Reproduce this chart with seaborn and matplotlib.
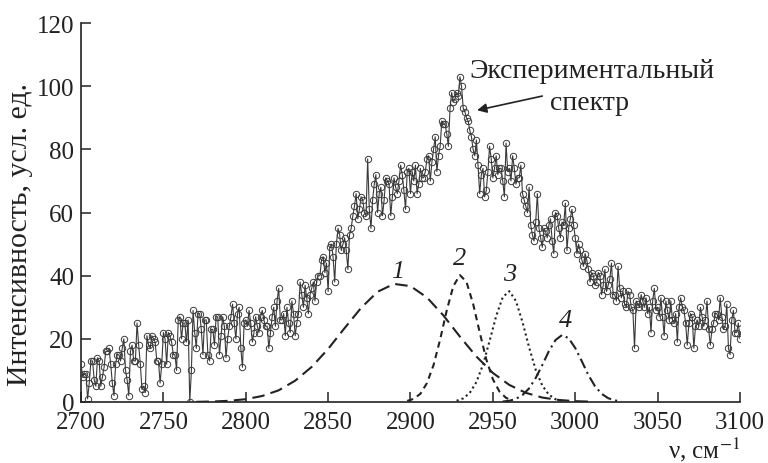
import numpy as np
import pandas as pd
import matplotlib
matplotlib.use("Agg")
import matplotlib.pyplot as plt
import seaborn as sns

# ---------------- data ----------------
# intensities at even wavenumbers 2700, 2702, ..., 3100
spectrum_even = [
    # 2700 - 2766
    12, 9, 1, 13, 7, 14, 5, 11, 16, 12, 2, 15, 13, 20, 7, 16, 13, 25, 12, 5,
    21, 17, 20, 13, 6, 22, 12, 21, 15, 10, 27, 25, 19, 0,
    # 2768 - 2832
    29, 17, 28, 15, 26, 13, 23, 27, 15, 27, 14, 24, 31, 20, 30, 11, 26, 29, 19, 27,
    22, 29, 24, 17, 27, 24, 36, 26, 21, 25, 32, 21, 28,
    # 2834 - 2900
    34, 37, 28, 36, 32, 40, 45, 41, 35, 50, 38, 55, 48, 52, 42, 55, 62, 58, 65, 60,
    77, 55, 69, 60, 68, 64, 70, 59, 71, 66, 75, 67, 73, 66,
    # 2902 - 2964
    70, 66, 74, 71, 77, 70, 80, 73, 81, 88, 85, 93, 95, 98, 103, 93, 90, 86, 80, 83,
    66, 74, 67, 81, 71, 78, 74, 70, 82, 74, 78, 69,
    # 2966 - 3032
    71, 66, 62, 68, 53, 57, 55, 49, 54, 56, 51, 60, 55, 57, 63, 55, 61, 52, 50, 45,
    47, 42, 41, 37, 41, 34, 42, 37, 44, 34, 43, 33, 31, 35,
    # 3034 - 3100
    30, 17, 31, 34, 30, 28, 22, 36, 30, 33, 21, 29, 32, 25, 19, 33, 29, 18, 28, 17,
    26, 30, 24, 32, 18, 25, 28, 33, 23, 31, 15, 29, 22, 20,
]
# intensities at odd wavenumbers 2701, 2703, ..., 3099
spectrum_odd = [
    # 2701 - 2767
    8, 9, 6, 13, 5, 13, 8, 16, 17, 6, 12, 15, 17, 10, 2, 18, 13, 18, 4, 3,
    18, 21, 19, 13, 12, 20, 22, 19, 15, 26, 20, 25, 26, 10,
    # 2769 - 2833
    22, 28, 23, 26, 15, 23, 18, 27, 21, 24, 20, 27, 25, 28, 17, 25, 24, 25, 22, 24,
    27, 26, 24, 22, 30, 32, 26, 28, 30, 22, 28, 25, 38,
    # 2835 - 2901
    30, 33, 34, 38, 38, 40, 46, 44, 49, 46, 50, 53, 50, 48, 53, 59, 66, 61, 64, 59,
    61, 64, 72, 66, 59, 71, 69, 65, 68, 70, 72, 61, 74, 73,
    # 2903 - 2965
    75, 69, 71, 73, 78, 76, 84, 78, 89, 88, 81, 98, 96, 97, 100, 92, 89, 84, 78, 75,
    72, 65, 73, 77, 74, 72, 74, 65, 73, 70, 74, 71,
    # 2967 - 3033
    75, 64, 60, 56, 51, 66, 52, 55, 52, 58, 47, 59, 52, 56, 48, 58, 56, 47, 48, 43,
    45, 38, 40, 38, 40, 37, 35, 39, 34, 32, 36, 35, 30, 34,
    # 3035 - 3099
    29, 32, 30, 32, 33, 30, 32, 29, 27, 27, 32, 26, 26, 28, 30, 30, 25, 25, 27, 24,
    24, 27, 26, 23, 23, 28, 26, 27, 24, 17, 26, 22, 25,
]

band1_nu = [2770, 2780, 2790, 2800, 2810, 2820, 2830, 2840, 2850, 2860, 2870, 2880,
            2890, 2900, 2910, 2920, 2930, 2940, 2950, 2960, 2970, 2980, 2990, 3000, 3010]
band1_i = [0.05, 0.15, 0.38, 0.89, 1.9, 3.7, 6.75, 11.1, 16.8, 23.4, 29.8, 34.9,
           37.4, 36.7, 33.1, 27.4, 20.7, 14.4, 9.2, 5.4, 2.9, 1.4, 0.64, 0.26, 0.1]

band2_nu = [2898, 2902, 2906, 2910, 2914, 2918, 2922, 2926, 2930, 2934, 2938, 2942,
            2946, 2950, 2954, 2958, 2962]
band2_i = [0.33, 1.0, 2.6, 6.0, 11.7, 19.8, 29.0, 36.7, 40.2, 38.0, 31.1, 22.1,
           13.5, 7.2, 3.3, 1.3, 0.45]

band3_nu = [2928, 2932, 2936, 2940, 2944, 2948, 2952, 2956, 2960, 2964, 2968, 2972,
            2976, 2980, 2984, 2988, 2992]
band3_i = [0.39, 1.14, 2.9, 6.3, 11.8, 19.3, 27.2, 33.2, 35.1, 32.0, 25.3, 17.3,
           10.2, 5.2, 2.3, 0.88, 0.29]

band4_nu = [2956, 2960, 2964, 2968, 2972, 2976, 2980, 2984, 2988, 2992, 2996, 3000,
            3004, 3008, 3012, 3016, 3020, 3024, 3028]
band4_i = [0.14, 0.39, 0.98, 2.2, 4.3, 7.6, 11.7, 16.1, 19.6, 21.2, 20.2, 17.1,
           12.9, 8.5, 5.0, 2.6, 1.2, 0.5, 0.18]

band_labels = ["1", "2", "3", "4"]
band_label_pos = [(2892, 41.5), (2930, 45.5), (2960, 40.5), (2994, 26.0)]

x_ticks = [2700, 2750, 2800, 2850, 2900, 2950, 3000, 3050, 3100]
y_ticks = [0, 20, 40, 60, 80, 100, 120]

# ---------------- style ----------------
sns.set_theme(style="ticks")
plt.rcParams["font.family"] = ["Liberation Serif", "DejaVu Serif"]
plt.rcParams["mathtext.fontset"] = "stix"
ink = "#222222"

fig = plt.figure(figsize=(7.68, 4.64), dpi=100)
ax = fig.add_axes([0.1055, 0.1315, 0.858, 0.8165])

nu = np.concatenate([np.arange(2700, 3101, 2), np.arange(2701, 3100, 2)])
df = pd.DataFrame({"nu": nu, "I": spectrum_even + spectrum_odd}).sort_values("nu")
sns.lineplot(data=df, x="nu", y="I", ax=ax, estimator=None, sort=True,
             color="#3a3a3a", linewidth=0.8, marker="o", markersize=4.6,
             markerfacecolor="none", markeredgecolor="#3a3a3a",
             markeredgewidth=0.7, zorder=3)

styles = [(0, (6, 3)), (0, (3, 2.2)), (0, (1, 1.5)), (0, (5, 2, 1, 2))]
bands = [(band1_nu, band1_i), (band2_nu, band2_i),
         (band3_nu, band3_i), (band4_nu, band4_i)]
for (bx, by), ls in zip(bands, styles):
    sns.lineplot(x=bx, y=by, ax=ax, estimator=None, sort=False,
                 color=ink, linewidth=1.5, linestyle=ls, zorder=2)

for lab, (lx, ly) in zip(band_labels, band_label_pos):
    ax.text(lx, ly, lab, fontsize=19, style="italic", color=ink,
            ha="center", va="center")

ax.text(3010, 102.9, "Экспериментальный", fontsize=20, color=ink,
        ha="center", va="baseline")
ax.text(3009, 92.8, "спектр", fontsize=20, color=ink,
        ha="center", va="baseline")
ax.annotate("", xy=(2940.4, 92.4), xytext=(2980, 96.9),
            arrowprops=dict(arrowstyle="-|>", color=ink, lw=1.2,
                            mutation_scale=14, shrinkA=0, shrinkB=0))

ax.set_xlim(2700, 3100)
ax.set_ylim(0, 120)
ax.set_xticks(x_ticks)
ax.set_yticks(y_ticks)
ax.tick_params(direction="in", length=7, width=1.1, colors=ink,
               labelsize=18)
ax.tick_params(axis="x", pad=6.5)
ax.tick_params(axis="y", pad=5)
for s in ["top", "right"]:
    ax.spines[s].set_visible(False)
for s in ["left", "bottom"]:
    ax.spines[s].set_linewidth(1.2)
    ax.spines[s].set_color(ink)

ax.set_ylabel("Интенсивность, усл. ед.", fontsize=21.5, color=ink)
ax.yaxis.set_label_coords(-0.073, 0.446)
ax.set_xlabel(r"ν, см$^{-1}$", fontsize=18, color=ink, loc="right", labelpad=1)

fig.savefig("out.png", dpi=100)
